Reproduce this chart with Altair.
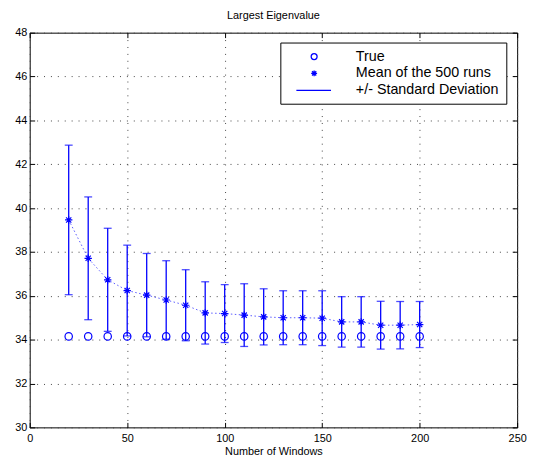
import altair as alt
import pandas as pd

# ---- data ----
windows = [20, 30, 40, 50, 60, 70, 80, 90, 100, 110, 120, 130, 140, 150, 160, 170, 180, 190, 200]
true_values = [34.15] * 19
mean_values = [39.46, 37.71, 36.73, 36.24, 36.03, 35.81, 35.57, 35.22, 35.19, 35.12,
               35.04, 35.00, 35.00, 34.98, 34.81, 34.81, 34.66, 34.66, 34.69]
std_values = [3.41, 2.80, 2.35, 2.07, 1.90, 1.79, 1.62, 1.42, 1.32, 1.43,
              1.28, 1.23, 1.23, 1.25, 1.15, 1.15, 1.09, 1.08, 1.05]
legend_labels = ["True", "Mean of the 500 runs", "+/- Standard Deviation"]
x_ticks = [0, 50, 100, 150, 200, 250]
y_ticks = [30, 32, 34, 36, 38, 40, 42, 44, 46, 48]

BLUE = "#0000ff"
FONT = "Liberation Sans"

summary = pd.DataFrame({
    "windows": windows,
    "mean": mean_values,
    "lower": [m - s for m, s in zip(mean_values, std_values)],
    "upper": [m + s for m, s in zip(mean_values, std_values)],
})
points = pd.DataFrame({
    "windows": windows + windows,
    "value": true_values + mean_values,
    "series": [legend_labels[0]] * len(windows) + [legend_labels[1]] * len(windows),
})

xscale = alt.Scale(domain=[0, 250], nice=False, zero=False)
yscale = alt.Scale(domain=[30, 48], nice=False, zero=False)

asterisk = "M-1,0L1,0M0,-1L0,1M-0.71,-0.71L0.71,0.71M-0.71,0.71L0.71,-0.71"
legend_line = "M-6,0.1L5.7,0.1"

bottom_axis = alt.Axis(values=x_ticks, title="Number of Windows", grid=True, domain=False,
                       tickSize=5, offset=-5, labelPadding=5, labelFlush=False,
                       labelOverlap=False, format="d", titlePadding=3)
left_axis = alt.Axis(values=y_ticks, title=None, grid=True, domain=False,
                     tickSize=5, offset=-5, labelPadding=3, format="d")
top_axis = alt.Axis(values=x_ticks, orient="top", labels=False, title=None, grid=False,
                    domain=False, tickSize=5, offset=-5)
right_axis = alt.Axis(values=y_ticks, orient="right", labels=False, title=None, grid=False,
                      domain=False, tickSize=5, offset=-5)

base = alt.Chart(summary)

mean_line = base.mark_line(color="#5a5aff", strokeDash=[1.5, 2.5], strokeWidth=1).encode(
    x=alt.X("windows:Q", scale=xscale, axis=bottom_axis),
    y=alt.Y("mean:Q", scale=yscale, axis=left_axis),
)

frame_axes = base.mark_line(opacity=0).encode(
    x=alt.X("windows:Q", scale=xscale, axis=top_axis),
    y=alt.Y("mean:Q", scale=yscale, axis=right_axis),
)

rules = base.mark_rule(color=BLUE, strokeWidth=1.3).encode(
    x=alt.X("windows:Q", scale=xscale, axis=None),
    y=alt.Y("lower:Q", scale=yscale, axis=None),
    y2="upper:Q",
)
caps_up = base.mark_tick(color=BLUE, orient="horizontal", size=8, thickness=1.3).encode(
    x=alt.X("windows:Q", scale=xscale, axis=None),
    y=alt.Y("upper:Q", scale=yscale, axis=None),
)
caps_low = base.mark_tick(color=BLUE, orient="horizontal", size=8, thickness=1.3).encode(
    x=alt.X("windows:Q", scale=xscale, axis=None),
    y=alt.Y("lower:Q", scale=yscale, axis=None),
)

pts = alt.Chart(points).mark_point(filled=False, size=56, strokeWidth=1.2, color=BLUE, opacity=1).encode(
    x=alt.X("windows:Q", scale=xscale, axis=None),
    y=alt.Y("value:Q", scale=yscale, axis=None),
    shape=alt.Shape(
        "series:N",
        scale=alt.Scale(domain=legend_labels, range=["circle", asterisk, legend_line]),
        legend=alt.Legend(
            orient="none", legendX=254, legendY=10, title=None,
            strokeColor="black", fillColor="white", padding=7,
            labelFont=FONT, labelFontSize=14.5, labelColor="black",
            symbolSize=36, symbolStrokeWidth=1.3, symbolStrokeColor=BLUE,
            symbolFillColor="transparent", symbolOffset=20, labelOffset=35,
            rowPadding=2,
        ),
    ),
)

chart = alt.layer(mean_line, frame_axes, rules, caps_up, caps_low, pts).resolve_axis(
    x="independent", y="independent"
).properties(
    width=494, height=400,
    title=alt.TitleParams("Largest Eigenvalue", font=FONT, fontSize=11, fontWeight="normal",
                          anchor="middle", offset=6, color="black"),
    autosize=alt.AutoSizeParams(type="none"),
    padding={"left": 22, "top": 22, "right": 12, "bottom": 26},
).configure_view(stroke="black", strokeWidth=1).configure_axis(
    labelFont=FONT, labelFontSize=11, labelColor="black", tickColor="black",
    titleFont=FONT, titleFontSize=11, titleFontWeight="normal", titleColor="black",
    gridColor="#444444", gridDash=[1, 6], gridOpacity=1, gridWidth=1,
)

chart.save("out.html", embed_options={"renderer": "svg", "actions": False})
